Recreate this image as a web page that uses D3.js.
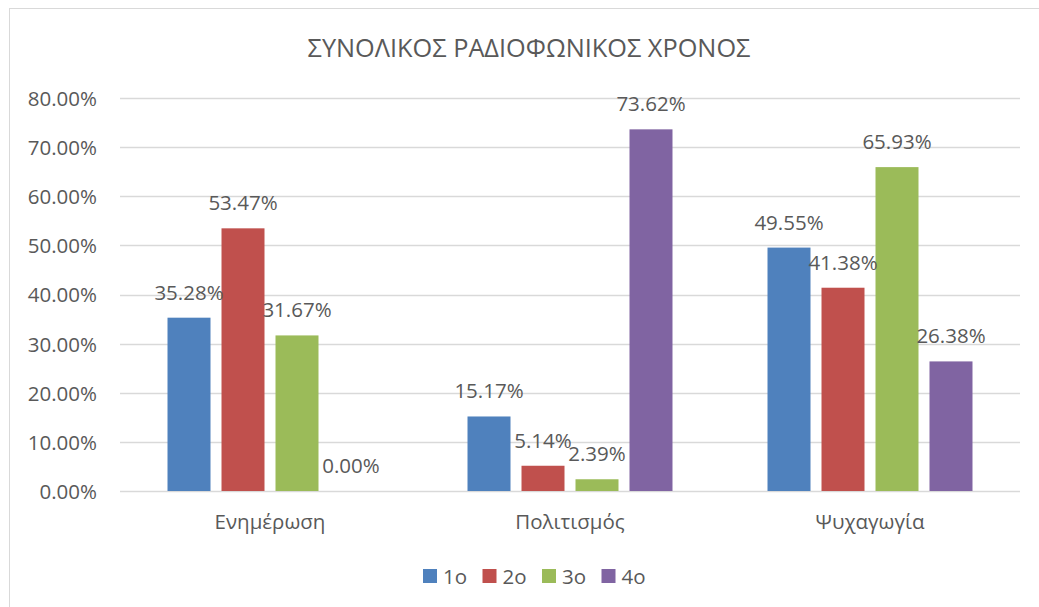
<!DOCTYPE html>
<html>
<head>
<meta charset="utf-8">
<script src="https://cdn.jsdelivr.net/npm/d3@7"></script>
<style>
    body { margin: 0; background: #fff; }
    svg { display: block; font-family: "Open Sans", sans-serif; }
    .axis-label, .data-label, .legend-label { fill: #595959; }
</style>
</head>
<body>
<svg id="chart" width="1039" height="607"></svg>
<script>
// chart data
const title = "ΣΥΝΟΛΙΚΟΣ ΡΑΔΙΟΦΩΝΙΚΟΣ ΧΡΟΝΟΣ";
const categories = ["Ενημέρωση", "Πολιτισμός", "Ψυχαγωγία"];
const seriesNames = ["1ο", "2ο", "3ο", "4ο"];
const series1 = [35.28, 15.17, 49.55];
const series2 = [53.47, 5.14, 41.38];
const series3 = [31.67, 2.39, 65.93];
const series4 = [0.00, 73.62, 26.38];
const yTicks = [0, 10, 20, 30, 40, 50, 60, 70, 80];
const colors = ["#4f81bd", "#c0504d", "#9bbb59", "#8064a2"];

const allSeries = [series1, series2, series3, series4];

const svg = d3.select("#chart");
const width = 1039;
const height = 607;
const margins = {left: 120, right: 19, top: 98, bottom: 116};
const fontSize = "20.5px";

// chart border
svg.append("rect")
    .attr("x", 9.5)
    .attr("y", 8.5)
    .attr("width", width + 10)
    .attr("height", height + 10)
    .attr("fill", "#fff")
    .attr("stroke", "#d9d9d9")
    .attr("stroke-width", 1);

const x = d3.scaleBand()
    .domain(categories)
    .range([margins.left, width - margins.right])
    .paddingInner(0.3167)
    .paddingOuter(0.3167 / 2);

const xInner = d3.scaleBand()
    .domain(seriesNames)
    .range([0, x.bandwidth()])
    .paddingInner(0.2037)
    .paddingOuter(0);

const y = d3.scaleLinear()
    .domain([0, 80])
    .range([height - margins.bottom, margins.top]);

// gridlines
svg.append("g")
    .attr("class", "grid")
    .selectAll("line")
    .data(yTicks)
    .enter()
    .append("line")
    .attr("x1", margins.left)
    .attr("x2", width - margins.right)
    .attr("y1", d => Math.round(y(d)) + 0.5)
    .attr("y2", d => Math.round(y(d)) + 0.5)
    .attr("stroke", "#d9d9d9")
    .attr("stroke-width", 1.3);

// y axis labels
const yAxis = d3.axisLeft(y)
    .tickValues(yTicks)
    .tickSize(0)
    .tickPadding(0)
    .tickFormat(d => d3.format(".2f")(d) + "%");

svg.append("g")
    .attr("id", "y-axis")
    .attr("transform", `translate(97,0)`)
    .call(yAxis)
    .call(g => g.select(".domain").remove())
    .call(g => g.selectAll("text")
        .attr("class", "axis-label")
        .attr("fill", null)
        .style("font-family", "Open Sans")
        .style("font-size", fontSize)
        .attr("dy", "0.36em"));

// x axis labels
const xAxis = d3.axisBottom(x).tickSize(0).tickPadding(0);
svg.append("g")
    .attr("id", "x-axis")
    .attr("transform", `translate(0,${height - margins.bottom})`)
    .call(xAxis)
    .call(g => g.select(".domain").remove())
    .call(g => g.selectAll("text")
        .attr("class", "axis-label")
        .attr("fill", null)
        .attr("y", 38)
        .attr("dy", 0)
        .style("font-family", "Open Sans")
        .style("font-size", fontSize));

// bars
const groups = svg.append("g")
    .selectAll("g")
    .data(categories)
    .enter()
    .append("g")
    .attr("transform", d => `translate(${x(d)},0)`);

const barData = (c, i) => allSeries.map((s, k) => ({name: seriesNames[k], value: s[i], color: colors[k]}));

groups.selectAll("rect")
    .data(barData)
    .enter()
    .append("rect")
    .attr("x", d => xInner(d.name))
    .attr("y", d => y(d.value))
    .attr("width", xInner.bandwidth())
    .attr("height", d => y(0) - y(d.value))
    .attr("fill", d => d.color);

groups.selectAll("text")
    .data(barData)
    .enter()
    .append("text")
    .attr("class", "data-label")
    .attr("x", d => xInner(d.name) + xInner.bandwidth() / 2)
    .attr("y", d => y(d.value) - 18)
    .style("text-anchor", "middle")
    .style("font-size", fontSize)
    .text(d => d3.format(".2f")(d.value) + "%");

// title
svg.append("text")
    .attr("x", 529)
    .attr("y", 57)
    .style("text-anchor", "middle")
    .style("font-size", "25.3px")
    .attr("fill", "#595959")
    .text(title);

// legend
const legend = svg.append("g")
    .selectAll("g")
    .data(seriesNames)
    .enter()
    .append("g")
    .attr("transform", (d, i) => `translate(${423 + i * 59.5},569)`);

legend.append("rect")
    .attr("width", 14)
    .attr("height", 14)
    .attr("fill", (d, i) => colors[i]);

legend.append("text")
    .attr("class", "legend-label")
    .attr("x", 20)
    .attr("y", 14.5)
    .style("font-size", fontSize)
    .text(d => d);
</script>
</body>
</html>
